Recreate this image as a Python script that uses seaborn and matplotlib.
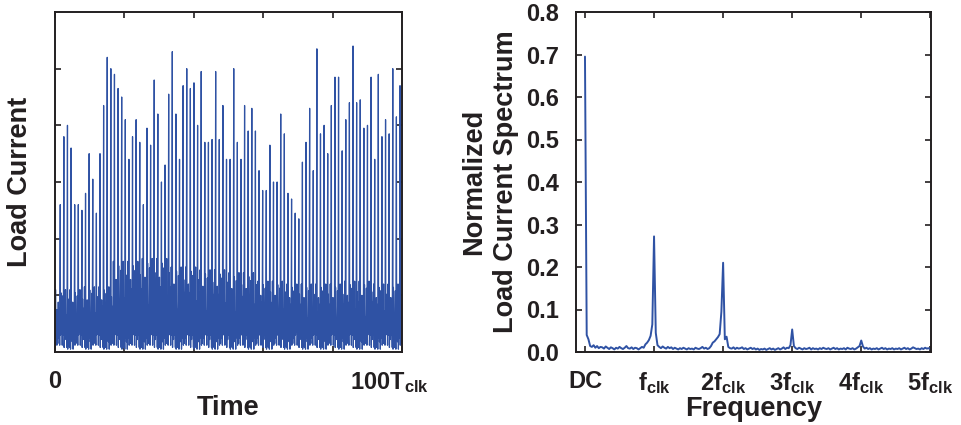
import numpy as np
import pandas as pd
import matplotlib
matplotlib.use("Agg")
import matplotlib.pyplot as plt
from matplotlib.transforms import ScaledTranslation
import seaborn as sns

# ---- load current: peak height of each clock cycle (arbitrary units) ----
cycle_peaks = [
    0.75,
    2.6, 3.8, 4.0, 3.6, 2.6, 2.6, 2.5, 2.8, 3.5, 3.05, 2.45, 3.5, 4.35, 5.2,
    5.0, 4.9, 4.65, 4.5, 4.1, 3.4, 3.8, 4.1, 3.7,
    2.6, 3.95, 3.65, 4.8, 4.2, 3.0, 3.3, 4.55, 5.3, 4.2, 3.4, 4.7, 5.0, 4.65,
    4.75, 4.0, 4.95, 3.7, 3.7, 3.75, 4.95, 3.75, 4.35,
    3.4, 3.4, 5.0, 3.7, 3.4, 4.35, 3.9, 4.3, 3.9, 3.2, 2.85, 2.85, 3.65, 3.0,
    3.0, 4.2, 3.85, 2.8, 2.7, 2.45, 2.35, 3.35, 3.7, 4.3, 3.2,
    5.35, 3.85, 4.0, 3.5, 4.35, 4.85, 4.85, 3.55, 4.1, 4.4, 5.4, 4.4, 4.45,
    3.95, 4.0, 4.85, 3.4, 4.9, 3.8, 4.1, 3.85, 5.0, 4.15, 4.7,
]
# level of the background switching activity, one value per 8 cycles
band_level = [1.1, 1.15, 1.6, 1.65, 1.5, 1.45, 1.4, 1.25, 1.2, 1.2, 1.25, 1.2]
# shape of the activity between the main spikes (relative to band level)
mid_shapes = [[1.0, 0.55, 0.8], [0.7, 0.95, 0.5], [0.9, 0.4, 1.0], [0.6, 0.85, 0.7]]
low_levels = [0.05, 0.25, 0.12, 0.3, 0.08]

# ---- normalized spectrum, sampled every 0.025 f_clk (values x 1e-3) ----
spectrum_milli = [
    695, 40, 30, 14, 12, 16, 10, 14, 9, 12, 11, 8, 13, 10, 7, 11, 9, 6, 10, 8,
    12, 9, 7, 10, 14, 9, 8, 11, 7, 10, 9, 6, 9, 12, 10, 18, 22, 28, 38, 65,
    272, 45, 16, 12, 9, 13, 10, 8, 12, 9, 11, 7, 10, 8, 6, 9, 7, 10, 8, 6,
    9, 7, 8, 6, 10, 8, 7, 9, 12, 8, 10, 7, 9, 14, 22, 25, 30, 35, 42, 95,
    210, 30, 36, 12, 9, 8, 11, 7, 10, 8, 9, 11, 7, 9, 6, 8, 10, 7, 9, 6,
    8, 5, 7, 6, 8, 5, 7, 9, 6, 8, 5, 7, 9, 6, 8, 11, 7, 10, 9, 16,
    53, 14, 9, 7, 10, 8, 6, 9, 7, 8, 10, 6, 9, 7, 8, 6, 9, 7, 10, 8,
    7, 9, 6, 8, 10, 7, 9, 6, 8, 7, 9, 6, 10, 8, 7, 9, 6, 8, 11, 14,
    27, 13, 8, 10, 7, 9, 6, 8, 7, 9, 6, 8, 10, 7, 9, 6, 8, 7, 9, 6,
    8, 7, 9, 6, 8, 10, 7, 9, 6, 8, 11, 9, 7, 8, 6, 9, 7, 10, 8, 9, 7,
]
freq_step = 0.025
freq_ticks = [0, 1, 2, 3, 4, 5]
freq_labels = ["DC", r"$\mathbf{f_{clk}}$", r"$\mathbf{2f_{clk}}$",
               r"$\mathbf{3f_{clk}}$", r"$\mathbf{4f_{clk}}$", r"$\mathbf{5f_{clk}}$"]
spec_ticks = [0.0, 0.1, 0.2, 0.3, 0.4, 0.5, 0.6, 0.7, 0.8]

# ---- build the current waveform: one spike plus background per cycle ----
n_cycles = len(cycle_peaks)
period = 100.0 / n_cycles
phases = [0.0, 0.15, 0.30, 0.45, 0.52, 0.62, 0.78, 0.90]
times, currents = [], []
for i, pk in enumerate(cycle_peaks):
    band = band_level[min(i // 8, len(band_level) - 1)]
    m = mid_shapes[i % len(mid_shapes)]
    lo = [low_levels[(i + k) % len(low_levels)] for k in range(3)]
    vals = [lo[0], band * m[0], lo[1], pk, lo[2], band * m[1], lo[0] + 0.1, band * m[2]]
    for ph, v in zip(phases, vals):
        times.append((i + ph) * period)
        currents.append(v)
current_df = pd.DataFrame({"time": times, "current": currents})

spec_df = pd.DataFrame({
    "freq": np.arange(len(spectrum_milli)) * freq_step,
    "mag": np.array(spectrum_milli) / 1000.0,
})

# ---- styling ----
sns.set_theme(style="ticks")
ink = "#231F20"
blue = "#2F52A4"
plt.rcParams.update({
    "font.family": ["Liberation Sans", "DejaVu Sans"],
    "font.weight": "bold",
    "axes.labelweight": "bold",
    "mathtext.fontset": "custom",
    "mathtext.rm": "Liberation Sans:bold",
    "mathtext.bf": "Liberation Sans:bold",
    "mathtext.it": "Liberation Sans:bold",
    "text.color": ink,
    "axes.labelcolor": ink,
    "xtick.color": ink,
    "ytick.color": ink,
    "axes.edgecolor": ink,
    "axes.linewidth": 1.4,
})

W, H = 962, 425
fig = plt.figure(figsize=(W / 100, H / 100), dpi=100)
ax1 = fig.add_axes([55 / W, 1 - 352 / H, 347 / W, 340 / H])
ax2 = fig.add_axes([576 / W, 1 - 352 / H, 355 / W, 340 / H])

tick_fs = 17
label_fs = 19.5

# left: load current over time
sns.lineplot(data=current_df, x="time", y="current", ax=ax1, color=blue,
             linewidth=0.9, estimator=None, sort=False)
ax1.set_xlim(0, 100)
ax1.set_ylim(0, 6)
ax1.set_xticks([0, 20, 40, 60, 80, 100])
ax1.set_xticklabels(["0", "", "", "", "", r"$\mathbf{100T_{clk}}$"])
ax1.set_yticks([1, 2, 3, 4, 5])
ax1.set_yticklabels([])
ax1.tick_params(direction="in", top=True, right=True, length=4, width=1.2,
                labelsize=tick_fs, pad=13)
ax1.tick_params(axis="y", pad=11)
ax1.set_xlabel("Time", fontsize=label_fs, labelpad=0)
ax1.set_ylabel("Load Current", fontsize=label_fs, labelpad=5)
last = ax1.get_xticklabels()[-1]
last.set_transform(last.get_transform() + ScaledTranslation(-0.12, 0, fig.dpi_scale_trans))

# right: normalized spectrum
sns.lineplot(data=spec_df, x="freq", y="mag", ax=ax2, color=blue,
             linewidth=1.4, estimator=None, sort=False)
ax2.set_xlim(-0.13, 5.01)
ax2.set_ylim(0, 0.8)
ax2.set_xticks(freq_ticks)
ax2.set_xticklabels(freq_labels)
ax2.set_yticks(spec_ticks)
ax2.set_yticklabels([f"{v:.1f}" for v in spec_ticks])
ax2.tick_params(direction="in", top=True, right=True, length=4, width=1.2,
                labelsize=tick_fs, pad=13)
ax2.tick_params(axis="y", pad=12)
ax2.set_xlabel("Frequency", fontsize=label_fs, labelpad=0)
ax2.set_ylabel("Normalized\nLoad Current Spectrum", fontsize=label_fs,
               labelpad=5, linespacing=1.3)

fig.savefig("out.png", dpi=100)
